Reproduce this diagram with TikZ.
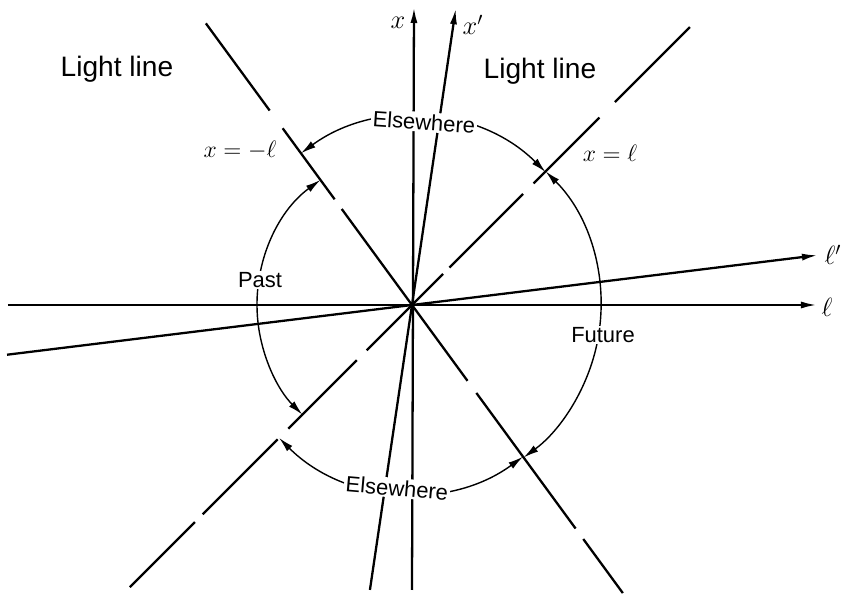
\RequirePackage{fix-cm}
\documentclass[tikz,border=0pt]{standalone}
\usepackage{fontspec}
\setmainfont{Liberation Sans}
\usetikzlibrary{arrows.meta}
\tikzset{ax/.style={line width=1.3pt,-{Latex[length=3.2mm,width=1.4mm]}},
 lite/.style={line width=1.3pt},
 reg/.style={line width=.8pt,{Latex[length=3mm,width=1.5mm]}-{Latex[length=3mm,width=1.5mm]}},
 lbl/.style={fill=white,inner sep=1pt,font=\fontsize{12.5}{14}\selectfont},
 mlbl/.style={font=\fontsize{15}{17}\selectfont},
 eqlbl/.style={font=\fontsize{13.5}{15}\selectfont}}
\begin{document}
\begin{tikzpicture}
\useasboundingbox(-8.24,-5.82)rectangle(8.66,6.1);
\coordinate(O)at(0,0);
% axes
\coordinate(xbot)at(0,-5.7);\coordinate(xtip)at(.04,5.96);
\coordinate(xpbot)at(261.6:5.76);\coordinate(xptip)at(81.6:6);
\coordinate(lbot)at(-8.08,0);\coordinate(ltip)at(8.1,0);
\coordinate(lpbot)at(187:8.16);\coordinate(lptip)at(7:8.18);
\draw[ax](xbot)--(xtip);\draw[ax](xpbot)--(xptip);
\draw[ax](lbot)--(ltip);\draw[ax](lpbot)--(lptip);
\node[mlbl](xlab)at(-.28,5.64){$x$};\node[mlbl](xplab)at(1.22,5.6){$x'$};
\node[mlbl](llab)at(8.3,-.04){$\ell$};\node[mlbl](lplab)at(8.42,1.0){$\ell'$};
% light lines, broken
\foreach\a/\b in{0/.88,1.06/3.14,3.44/5.3,5.74/7.86}\draw[lite](45:\a)--(45:\b);
\foreach\a/\b in{0/1.28,1.56/3.5,3.8/5.92,6.14/7.98}\draw[lite](225:\a)--(225:\b);
\foreach\a/\b in{0/2.38,2.62/4.38,4.82/6.98}\draw[lite](126.2:\a)--(126.2:\b);
\foreach\a/\b in{0/1.88,2.18/5.54,5.8/7.14}\draw[lite](-53.8:\a)--(-53.8:\b);
\node[font=\fontsize{16}{18}\selectfont](ll1)at(-5.9,4.72){Light line};
\node[font=\fontsize{16}{18}\selectfont](ll2)at(2.56,4.68){Light line};
\node[eqlbl](xpl)at(3.96,3.04){$x=\ell$};\node[eqlbl](xml)at(-3.44,3.1){$x=-\ell$};
% regions
\coordinate(P1)at(126.2:3.76);\coordinate(P2)at(126.2:3.1);\coordinate(P3)at(45:3.78);
\coordinate(P4)at(225:3.1);\coordinate(P5)at(225:3.76);\coordinate(P6)at(-53.8:3.77);
\draw[reg](P1)arc(126.2:45:3.77);\draw[reg](P3)arc(45:-53.8:3.78);
\draw[reg](P5)arc(225:306.2:3.76);\draw[reg](P2)arc(126.2:225:3.1);
\node[lbl,rotate=-4](etop)at(.24,3.66){Elsewhere};
\node[lbl,rotate=-5](ebot)at(-.3,-3.66){Elsewhere};
\node[lbl](past)at(-3.04,.5){Past};\node[lbl](fut)at(3.82,-.6){Future};
\end{tikzpicture}
\end{document}
